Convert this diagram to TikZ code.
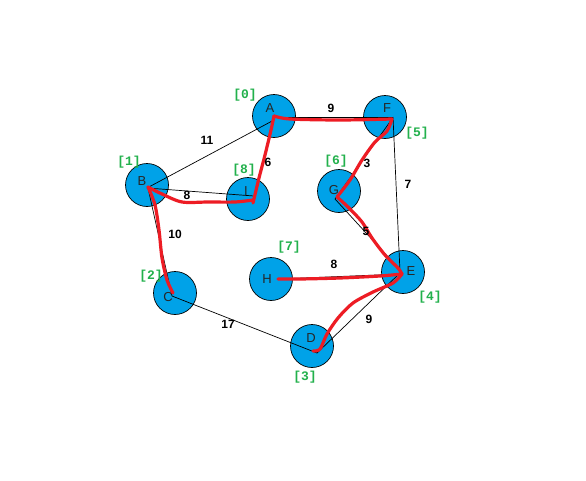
\documentclass[tikz,border=0pt]{standalone}
\usepackage{fontspec}
\setmainfont{Liberation Sans}
\newfontfamily\monof{Liberation Mono}
\definecolor{nodeblue}{HTML}{00A2E8}
\definecolor{idxgreen}{HTML}{22B14C}
\definecolor{pathred}{HTML}{ED1C24}
\begin{document}
\begin{tikzpicture}[x=1pt,y=-1pt,
  vtx/.style={circle,draw=black,fill=nodeblue,minimum size=43pt,inner sep=0pt,line width=0.7pt},
  vlab/.style={font=\fontsize{13}{13}\selectfont,text=black!85},
  edge/.style={draw=black,line width=0.7pt},
  wlab/.style={font=\bfseries\fontsize{12}{12}\selectfont,inner sep=0pt},
  idx/.style={font=\monof\bfseries\fontsize{13}{13}\selectfont,text=idxgreen,inner sep=0pt},
  redp/.style={draw=pathred,line width=3.2pt,line cap=round,line join=round}]
\useasboundingbox (0,0) rectangle (586,480);
\fill[white] (0,0) rectangle (586,480);
% vertices
\node[vtx] (A) at (274,116) {};
\node[vtx] (F) at (385,117) {};
\node[vtx] (B) at (147,185) {};
\node[vtx] (I) at (248,199) {};
\node[vtx] (G) at (339,191) {};
\node[vtx] (C) at (175,293) {};
\node[vtx] (H) at (271,279) {};
\node[vtx] (D) at (312,346) {};
\node[vtx] (E) at (403,272) {};
% letters
\node[vlab] (lA) at (270,108) {A};
\node[vlab] (lF) at (387,108) {F};
\node[vlab] (lB) at (142,181) {B};
\node[vlab] (lI) at (246,191) {I};
\node[vlab] (lG) at (334,190) {G};
\node[vlab] (lC) at (168,297) {C};
\node[vlab] (lH) at (267,279) {H};
\node[vlab] (lD) at (311,338) {D};
\node[vlab] (lE) at (411,271) {E};
% black edges
\draw[edge] ([shift={(0,4)}]A.center) -- ([shift={(0,3)}]B.center);
\draw[edge] ([shift={(0,1)}]A.center) -- ([shift={(8,0)}]F.center);
\draw[edge] ([shift={(0,3)}]B.center) -- ([shift={(6,-3)}]I.center);
\draw[edge] ([shift={(8,0)}]F.center) -- ([shift={(-3,0)}]E.center);
\draw[edge] ([shift={(7,2)}]F.center) -- ([shift={(-4,8)}]G.center);
\draw[edge] ([shift={(-4,8)}]G.center) -- ([shift={(-3,-2)}]E.center);
\draw[edge] ([shift={(7,0)}]H.center) -- ([shift={(-2,2)}]E.center);
\draw[edge] ([shift={(-2,0)}]E.center) -- ([shift={(5,7)}]D.center);
\draw[edge] ([shift={(5,7)}]D.center) -- ([shift={(-3,3)}]C.center);
\draw[edge] ([shift={(-3,3)}]C.center) -- ([shift={(1,3)}]B.center);
% red path
\draw[redp] plot[smooth,tension=0.5] coordinates {(A.center) (290,119) (340,120) (392,119)};
\draw[redp] plot[smooth,tension=0.5] coordinates {(392,119) (387,131) (375,142) (362,160) (350,180) (337,197)};
\draw[redp] plot[smooth,tension=0.5] coordinates {(337,197) (348,207) (362,222) (372,238) (385,255) (398,268) (402,274)};
\draw[redp] plot[smooth,tension=0.5] coordinates {(402,274) (380,276) (340,278) (300,279) (278,279)};
\draw[redp] plot[smooth,tension=0.5] coordinates {(402,274) (393,283) (373,292) (353,303) (338,318) (327,334) (320,349) (313,351)};
\draw[redp] plot[smooth,tension=0.5] coordinates {(A.center) (271,130) (265,155) (259,178) (253,203)};
\draw[redp] plot[smooth,tension=0.5] coordinates {(253,200) (235,202) (208,202) (182,202) (162,194) (148,187)};
\draw[redp] plot[smooth,tension=0.5] coordinates {(148,187) (155,205) (159,230) (162,258) (167,280) (173,293)};
% weights
\node[wlab] (w1) at (207,140) {11};
\node[wlab] (w2) at (331,108) {9};
\node[wlab] (w3) at (268,162) {6};
\node[wlab] (w4) at (187,195) {8};
\node[wlab] (w5) at (367,163) {3};
\node[wlab] (w6) at (408,184) {7};
\node[wlab] (w7) at (175,234) {10};
\node[wlab] (w8) at (366,231) {5};
\node[wlab] (w9) at (334,264) {8};
\node[wlab] (w10) at (228,324) {17};
\node[wlab] (w11) at (369,319) {9};
% indices
\node[idx] (i0) at (245,95) {[0]};
\node[idx] (i5) at (417,133) {[5]};
\node[idx] (i1) at (129,162) {[1]};
\node[idx] (i8) at (244,170) {[8]};
\node[idx] (i6) at (336,161) {[6]};
\node[idx] (i7) at (289,247) {[7]};
\node[idx] (i2) at (151,276) {[2]};
\node[idx] (i4) at (430,297) {[4]};
\node[idx] (i3) at (305,377) {[3]};
\end{tikzpicture}
\end{document}
